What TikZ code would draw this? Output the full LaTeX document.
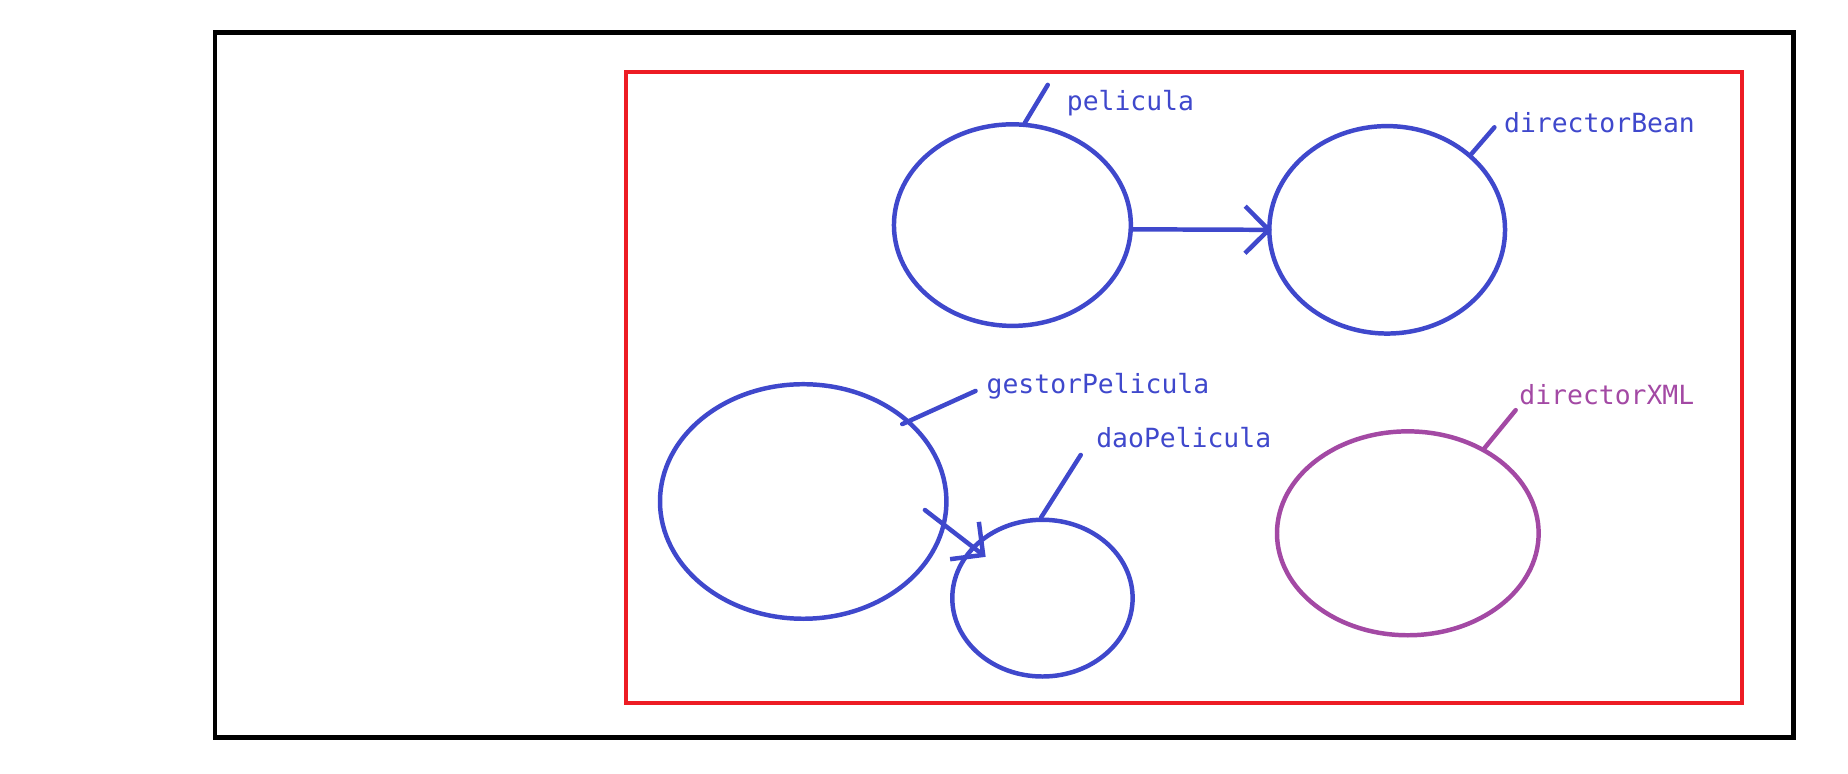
\documentclass[tikz,border=0pt]{standalone}
\usepackage{fontspec}
\setmonofont{DejaVu Sans Mono}
\usetikzlibrary{arrows.meta,calc,shapes.geometric}
\definecolor{pblue}{HTML}{3F48CC}
\definecolor{ppurple}{HTML}{A349A4}
\definecolor{pred}{HTML}{ED1C24}
\tikzset{
  bean/.style={ellipse, draw=pblue, line width=3.8pt, inner sep=0pt},
  beanxml/.style={bean, draw=ppurple},
  lbl/.style={anchor=base west, inner sep=0pt, text=pblue, font=\ttfamily\fontsize{22.4}{26}\selectfont},
  lblxml/.style={lbl, text=ppurple},
  ptr/.style={draw=pblue, line width=3.8pt, line cap=round},
  ptrxml/.style={ptr, draw=ppurple},
  inj/.style={ptr, -{Straight Barb[length=20pt,width=40pt]}},
}
\begin{document}
\begin{tikzpicture}[x=1pt,y=-1pt]
\useasboundingbox (0,0) rectangle (1568,656.7);
% frames
\draw[black, line width=4pt] (182.5,27.5) rectangle (1521.5,625.6);
\draw[pred, line width=3.5pt] (531,61) rectangle (1478.3,596.6);
% beans
\node[bean, minimum width=201pt, minimum height=171pt] (pelicula) at (859,191) {};
\node[bean, minimum width=200pt, minimum height=176pt] (directorBean) at (1177,195) {};
\node[bean, minimum width=243pt, minimum height=199pt] (gestor) at (681.5,425.5) {};
\node[bean, minimum width=153pt, minimum height=133pt] (dao) at (884.5,507.5) {};
\node[beanxml, minimum width=222pt, minimum height=173pt] (directorXML) at (1194.5,452.5) {};
% labels
\node[lbl] (lpelicula) at (905,94) {pelicula};
\node[lbl] (ldirectorBean) at (1276,112.6) {directorBean};
\node[lbl] (lgestor) at (837,334) {gestorPelicula};
\node[lbl] (ldao) at (930,380) {daoPelicula};
\node[lblxml] (ldirectorXML) at (1289,343) {directorXML};
% pointer ends
\coordinate (epelicula) at (889,72);
\coordinate (edirectorBean) at (1268,108);
\coordinate (egestor) at (827.8,331.7);
\coordinate (edao) at (917,386);
\coordinate (edirectorXML) at (1286,348);
% pointers
\draw[ptr] (pelicula.83.4) -- (epelicula);
\draw[ptr] (directorBean.42.9) -- (edirectorBean);
\draw[ptr] ($(gestor.center)!0.94!(gestor.38.5)$) -- (egestor);
\draw[ptr] (dao.91.7) -- (edao);
\draw[ptrxml] (directorXML.48.4) -- (edirectorXML);
% injections
\draw[inj, shorten >=-4pt] (pelicula.-2) -- (directorBean.180);
\draw[inj] ($(gestor.center)!0.84!(gestor.-4.7)$) -- ($(dao.center)!0.80!(dao.144.4)$);
\end{tikzpicture}
\end{document}
